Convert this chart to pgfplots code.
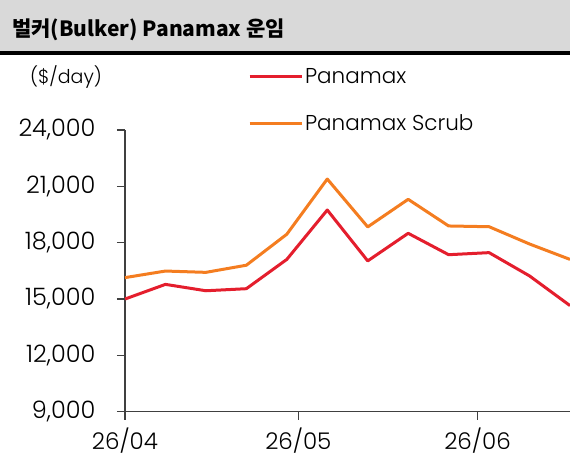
\documentclass[border=0pt]{standalone}
\usepackage{fontspec}
\setmainfont{Poppins Light}
\newfontfamily\kr{Noto Sans CJK KR}
\usepackage{pgfplots}
\pgfplotsset{compat=1.18}
\definecolor{pred}{RGB}{228,30,45}
\definecolor{porange}{RGB}{244,125,32}
\definecolor{axgray}{RGB}{64,64,64}
\definecolor{titlebg}{RGB}{217,217,217}
\begin{document}
\begin{tikzpicture}[x=1pt,y=1pt]
\fill[titlebg] (0,416) rectangle (570,467);
\draw[black,line width=3.5pt] (0,414) -- (570,414);
\node[anchor=base west,inner sep=0pt] at (12,430) {\kr\bfseries\fontsize{21}{24}\selectfont 벌커(Bulker) Panamax 운임};
\node[anchor=center,inner sep=0pt] at (66,390) {\fontsize{19}{22}\selectfont (\$/day)};
\begin{axis}[
  at={(125pt,55.3pt)}, anchor=south west,
  scale only axis, width=445pt, height=281.7pt,
  xmin=0, xmax=77, ymin=9000, ymax=24000,
  axis x line*=bottom, axis y line*=left,
  axis line style={axgray, line width=1.2pt},
  clip=false,
  xtick={0,30,61}, xticklabels={26/04,26/05,26/06},
  ytick={9000,12000,15000,18000,21000,24000},
  scaled y ticks=false,
  every tick/.style={axgray, line width=1.2pt},
  xtick align=outside, ytick align=outside, major tick length=8pt,
  /pgf/number format/.cd, fixed, precision=0, 1000 sep={,}, assume math mode=true,
  /pgfplots/.cd,
  ticklabel style={text=black},
  yticklabel style={font=\fontsize{24}{26}\selectfont, xshift=-18pt},
  xticklabel style={font=\fontsize{23}{26}\selectfont, yshift=-5pt},
  legend style={at={(0.276,1.227)}, anchor=north west, draw=none, fill=none,
    font=\fontsize{21.5}{24}\selectfont, row sep=26pt, inner sep=0pt,
    legend cell align=left},
  legend image code/.code={\draw[#1] (0pt,0pt) -- (52pt,0pt);},
]
\addplot[pred, line width=3pt, line join=round] coordinates {
(0,15000) (7,15780) (14,15440) (21,15550) (28,17110) (35,19740)
(42,17030) (49,18500) (56,17360) (63,17470) (70,16230) (77,14650)};
\addlegendentry{Panamax}
\addplot[porange, line width=3pt, line join=round] coordinates {
(0,16140) (7,16490) (14,16420) (21,16800) (28,18450) (35,21390)
(42,18840) (49,20310) (56,18890) (63,18850) (70,17930) (77,17110)};
\addlegendentry{Panamax Scrub}
\end{axis}
\pgfresetboundingbox
\useasboundingbox (0,0) rectangle (570,467);
\end{tikzpicture}
\end{document}
